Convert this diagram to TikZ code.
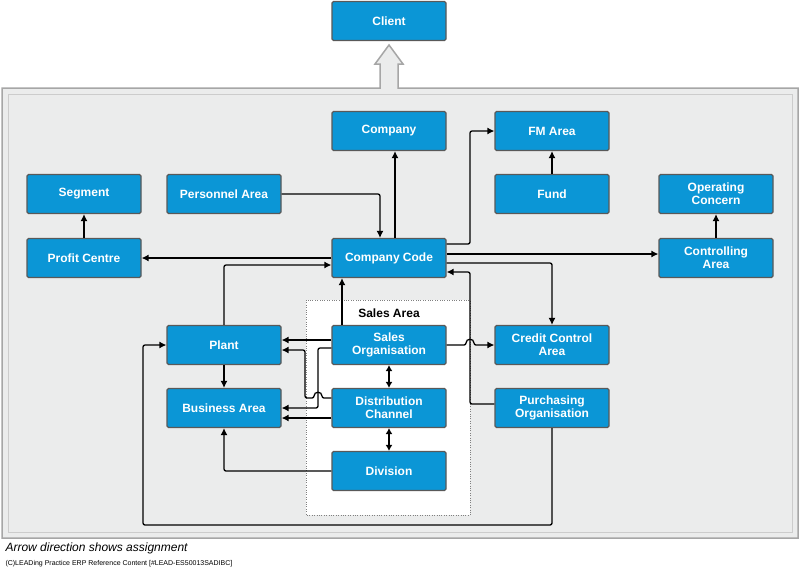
\documentclass[tikz,border=0pt]{standalone}
\usepackage{fontspec}
\setmainfont{Liberation Sans}
\usetikzlibrary{arrows.meta}
\definecolor{boxblue}{RGB}{11,150,214}
\definecolor{bgray}{RGB}{235,236,236}
\begin{document}
\begin{tikzpicture}[x=1pt,y=-1pt,
  box/.style={draw=gray!70!black,line width=1.2pt,fill=boxblue,rounded corners=1.5pt,minimum width=114pt,minimum height=39pt,text=white,font=\fontsize{12}{13}\selectfont\bfseries,align=center,inner sep=1pt},
  con/.style={line width=1.3pt,-{Latex[length=7pt,width=7pt]},rounded corners=2pt},
  dcon/.style={line width=1.3pt,{Latex[length=6pt,width=7pt]}-{Latex[length=6pt,width=7pt]}}]
\useasboundingbox (0,0) rectangle (800,571);
\fill[white] (0,0) rectangle (800,571);
\draw[fill=bgray,draw=gray!70,line width=1.5pt] (2,88) -- (380,88) -- (380,64) -- (375,64) -- (389,45) -- (403,64) -- (398,64) -- (398,88) -- (798,88) -- (798,538) -- (2,538) -- cycle;
\draw[gray!40,line width=0.6pt] (8,94) rectangle (792,532);
\draw[dotted,gray,fill=white] (306,300) rectangle (470,515);
\node[font=\fontsize{12}{13}\selectfont\bfseries] (sa) at (389,313) {Sales Area};
\node[box] (client) at (389,21) {Client};
\node[box] (company) at (389,131) {Company};
\node[box] (fm) at (552,131) {FM Area};
\node[box] (seg) at (84,194) {Segment};
\node[box] (pers) at (224,194) {Personnel Area};
\node[box] (fund) at (552,194) {Fund};
\node[box] (oc) at (716,194) {Operating\\Concern};
\node[box] (pc) at (84,258) {Profit Centre};
\node[box] (cc) at (389,258) {Company Code};
\node[box] (ca) at (716,258) {Controlling\\Area};
\node[box] (plant) at (224,345) {Plant};
\node[box] (so) at (389,345) {Sales\\Organisation};
\node[box] (cca) at (552,345) {Credit Control\\Area};
\node[box] (ba) at (224,408) {Business Area};
\node[box] (dc) at (389,408) {Distribution\\Channel};
\node[box] (po) at (552,408) {Purchasing\\Organisation};
\node[box] (div) at (389,471) {Division};
% connectors
\draw[con] (pers.east) -| (cc.north -| 380,0);
\draw[con] (cc.north -| 395,0) -- (company.south -| 395,0);
\draw[con] (cc.east |- 0,244) -| (470,131) -- (fm.west);
\draw[con] (fund.north) -- (fm.south);
\draw[con] (cc.east |- 0,254) -- (ca.west |- 0,254);
\draw[con] (cc.east |- 0,263) -| (cca.north);
\draw[con] (ca.north) -- (oc.south);
\draw[con] (cc.west) -- (pc.east);
\draw[con] (pc.north) -- (seg.south);
\draw[con] (plant.north) |- (cc.west |- 0,265);
\draw[con] (so.north -| 342,0) -- (cc.south -| 342,0);
\draw[con] (po.west |- 0,404) -| (470,272) -- (cc.east |- 0,272);
\draw[con] (so.east) -- (466,345) .. controls (466,338) and (474,338) .. (474,345) -- (cca.west);
\draw[con] (so.west |- 0,340) -- (plant.east |- 0,340);
\draw[con] (so.west |- 0,348) -- (318,348) -- (318,408) -- (ba.east |- 0,408);
\draw[con] (dc.west |- 0,398) -- (322,398) .. controls (322,391) and (314,391) .. (314,398) -- (305,398) -- (305,350) -- (plant.east |- 0,350);
\draw[con] (dc.west |- 0,418) -- (ba.east |- 0,418);
\draw[dcon] (so.south) -- (dc.north);
\draw[dcon] (dc.south) -- (div.north);
\draw[con] (div.west) -| (ba.south);
\draw[con] (plant.south) -- (ba.north);
\draw[con] (po.south) -- (552,525) -- (143,525) -- (143,345) -- (plant.west);
\node[anchor=west,font=\fontsize{12}{13}\selectfont\itshape] (note) at (2,548) {Arrow direction shows assignment};
\node[anchor=west,font=\fontsize{7}{8}\selectfont] (foot) at (2,564) {(C)LEADing Practice ERP Reference Content [\#LEAD-ES50013SADIBC]};
\end{tikzpicture}
\end{document}
